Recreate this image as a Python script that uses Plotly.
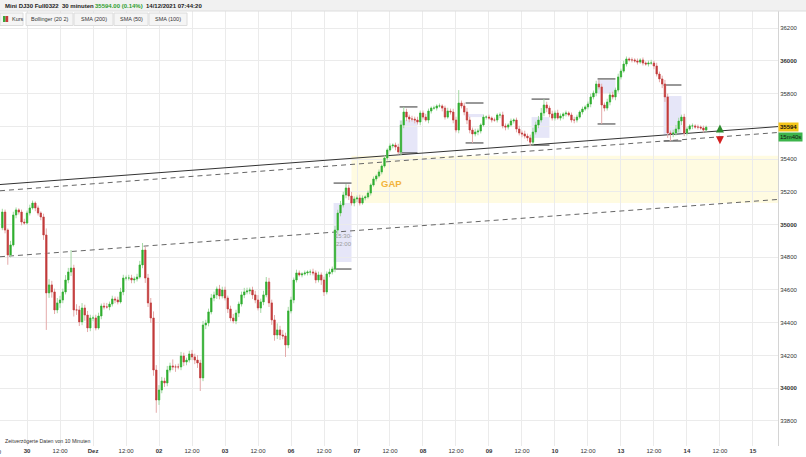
import plotly.graph_objects as go

# ---------------- data (hourly candles) ----------------
first_open = 34980
start_day = -0.375          # 29 Nov 15:00 in trading-day units (0 = 30 Nov 00:00)
bar_days = 1 / 24

closes_29 = [35076, 34966, 34814, 34875, 35058, 35089, 35076, 35015, 35009]
closes_30 = [35070, 35101, 35131, 35101, 35070, 35046, 34936, 34582, 34631, 34588, 34478, 34521,
             34539, 34588, 34661, 34710, 34734, 34478, 34478, 34405, 34490, 34447, 34368, 34429]
closes_01 = [34429, 34368, 34441, 34502, 34496, 34496, 34514, 34545, 34539, 34527, 34588, 34673,
             34673, 34673, 34661, 34667, 34679, 34753, 34844, 34673, 34521, 34429, 34111, 33928]
closes_02 = [33989, 34044, 34032, 34111, 34136, 34130, 34130, 34130, 34197, 34160, 34172, 34209,
             34191, 34172, 34154, 34063, 34386, 34398, 34466, 34551, 34570, 34606, 34563, 34600]
closes_03 = [34551, 34484, 34429, 34411, 34459, 34514, 34570, 34588, 34594, 34600, 34570, 34539,
             34490, 34527, 34570, 34649, 34521, 34417, 34325, 34356, 34325, 34319, 34264, 34472]
closes_06 = [34539, 34661, 34704, 34692, 34698, 34704, 34710, 34710, 34704, 34661, 34692, 34661,
             34588, 34698, 34710, 34728, 34966, 35070, 35119, 35180, 35223, 35174, 35131, 35156]
closes_07 = [35162, 35131, 35162, 35168, 35192, 35241, 35278, 35296, 35321, 35357, 35406, 35455,
             35480, 35485, 35473, 35443, 35608, 35687, 35656, 35644, 35644, 35638, 35626, 35681]
closes_08 = [35656, 35638, 35693, 35711, 35711, 35724, 35724, 35711, 35656, 35693, 35687, 35638,
             35577, 35742, 35724, 35687, 35638, 35577, 35553, 35565, 35571, 35608, 35656, 35656]
closes_09 = [35650, 35638, 35638, 35669, 35669, 35602, 35595, 35608, 35632, 35638, 35583, 35559,
             35553, 35540, 35529, 35503, 35565, 35608, 35638, 35681, 35730, 35711, 35675, 35650]
closes_10 = [35681, 35650, 35663, 35675, 35681, 35669, 35638, 35638, 35656, 35687, 35705, 35718,
             35736, 35779, 35803, 35858, 35840, 35730, 35711, 35748, 35791, 35779, 35821, 35901]
closes_13 = [35937, 35980, 36011, 36005, 36005, 35999, 35992, 36005, 35986, 35980, 35986, 35986,
             35968, 35919, 35889, 35858, 35779, 35559, 35553, 35559, 35583, 35632, 35656, 35559]
closes_14 = [35583, 35602, 35602, 35595, 35595, 35589, 35577, 35594]

upper_wick = (
    [20, 15, 10, 25, 20, 15, 10, 15, 20] +
    [15, 20, 15, 10, 15, 10, 20, 40, 35, 25, 20, 30, 25, 20, 30, 25, 110, 20, 35, 25, 30, 20, 25, 20] +
    [15, 20, 20, 15, 20, 25, 15, 20, 15, 20, 25, 20, 15, 20, 20, 15, 20, 25, 43, 20, 25, 30, 40, 30] +
    [30, 25, 20, 25, 20, 40, 15, 20, 25, 20, 15, 20, 25, 20, 30, 20, 25, 20, 20, 25, 20, 15, 25, 20] +
    [20, 15, 20, 25, 20, 15, 20, 25, 20, 15, 20, 25, 30, 20, 25, 30, 25, 20, 30, 40, 25, 30, 20, 25] +
    [20, 15, 20, 15, 10, 15, 10, 15, 20, 15, 20, 15, 20, 15, 20, 15, 25, 20, 25, 20, 24, 20, 25, 15] +
    [15, 20, 15, 10, 15, 10, 15, 10, 15, 10, 15, 10, 15, 10, 15, 20, 25, 31, 20, 15, 20, 15, 20, 15] +
    [15, 20, 15, 10, 15, 10, 15, 10, 15, 20, 15, 20, 20, 79, 15, 20, 25, 20, 15, 20, 15, 10, 15, 10] +
    [15, 10, 15, 10, 15, 20, 15, 10, 15, 10, 15, 20, 15, 20, 15, 20, 25, 20, 25, 30, 36, 20, 15, 20] +
    [15, 20, 15, 10, 15, 10, 15, 20, 15, 10, 15, 10, 15, 20, 15, 20, 25, 20, 15, 20, 15, 20, 15, 20] +
    [15, 20, 15, 10, 15, 10, 15, 10, 15, 10, 15, 20, 15, 20, 15, 20, 25, 20, 15, 20, 25, 20, 15, 20] +
    [15, 10, 15, 10, 15, 10, 15, 10]
)
lower_wick = (
    [15, 20, 60, 15, 10, 20, 15, 20, 10] +
    [10, 15, 10, 20, 15, 20, 30, 226, 30, 35, 25, 20, 30, 20, 15, 20, 25, 40, 30, 25, 20, 35, 25, 20] +
    [20, 15, 10, 20, 15, 10, 20, 15, 20, 15, 10, 20, 15, 15, 20, 20, 15, 10, 20, 30, 25, 30, 35, 78] +
    [30, 20, 25, 20, 15, 20, 30, 15, 20, 25, 20, 15, 20, 25, 30, 80, 20, 25, 20, 15, 20, 25, 20, 15] +
    [15, 25, 20, 15, 20, 25, 15, 20, 15, 20, 25, 20, 15, 30, 20, 15, 25, 30, 35, 25, 30, 20, 73, 20] +
    [15, 20, 15, 10, 15, 10, 15, 20, 15, 20, 15, 30, 25, 15, 20, 15, 20, 25, 20, 15, 20, 25, 15, 20] +
    [20, 15, 10, 15, 10, 15, 10, 15, 10, 15, 10, 15, 10, 15, 20, 15, 20, 20, 25, 20, 15, 20, 15, 20] +
    [15, 10, 20, 15, 10, 15, 10, 20, 15, 10, 15, 20, 15, 20, 15, 20, 25, 20, 55, 15, 20, 15, 10, 15] +
    [10, 15, 10, 15, 20, 15, 20, 15, 10, 15, 20, 15, 20, 15, 20, 25, 20, 15, 20, 15, 20, 25, 20, 15] +
    [15, 10, 15, 20, 15, 10, 15, 20, 15, 10, 15, 10, 15, 20, 15, 20, 15, 116, 20, 15, 20, 15, 20, 15] +
    [15, 10, 15, 10, 15, 10, 15, 10, 15, 10, 15, 10, 20, 15, 20, 25, 30, 30, 43, 20, 15, 20, 25, 20] +
    [15, 10, 20, 10, 15, 10, 15, 10]
)

# x-axis ticks (trading-day units)
x_tick_vals = [0, 0.5, 1, 1.5, 2, 2.5, 3, 3.5, 4, 4.5, 5, 5.5, 6, 6.5, 7, 7.5, 8, 8.5, 9, 9.5, 10, 10.5, 11]
x_tick_text = ["<b>30</b>", "12:00", "<b>Dez</b>", "12:00", "<b>02</b>", "12:00", "<b>03</b>", "12:00",
               "<b>06</b>", "12:00", "<b>07</b>", "12:00", "<b>08</b>", "12:00", "<b>09</b>", "12:00",
               "<b>10</b>", "12:00", "<b>13</b>", "12:00", "<b>14</b>", "12:00", "<b>15</b>"]
y_tick_vals = [33800, 34000, 34200, 34400, 34600, 34800, 35000, 35200, 35400, 35600, 35800, 36000, 36200]
y_tick_text = ["33800", "<b>34000</b>", "34200", "34400", "34600", "34800", "<b>35000</b>",
               "35200", "35400", "35600", "35800", "<b>36000</b>", "36200"]

# US session boxes (15:30-22:00): day index, session open/close band and high/low marks
session_days = [4, 5, 6, 7, 8, 9]
session_top = [35131, 35638, 35675, 35656, 35882, 35785]
session_bottom = [34771, 35437, 35656, 35529, 35803, 35547]
session_high = [35253, 35718, 35742, 35766, 35889, 35852]
session_low = [34728, 35437, 35498, 35485, 35614, 35510]

# trend lines: (x0, y0, x1, y1, dash)
trend_lines = [
    (-0.41, 35244, 11.38, 35598, "solid"),
    (-0.41, 35206, 11.38, 35562, "dash"),
    (-0.41, 34803, 11.38, 35153, "dash"),
]
gap_low, gap_high, gap_start = 35131, 35420, 4.917

last_price = 35594
# -------------------------------------------------------------------------------

closes = (closes_29 + closes_30 + closes_01 + closes_02 + closes_03 + closes_06 +
          closes_07 + closes_08 + closes_09 + closes_10 + closes_13 + closes_14)
x = [start_day + i * bar_days for i in range(len(closes))]
opens = [first_open] + closes[:-1]
highs = [max(o, c) + w for o, c, w in zip(opens, closes, upper_wick)]
lows = [min(o, c) - w for o, c, w in zip(opens, closes, lower_wick)]
body_hi = [max(o, c) for o, c in zip(opens, closes)]
body_lo = [min(o, c) for o, c in zip(opens, closes)]

FONT = "Liberation Sans, Arial, sans-serif"
GREEN, RED = "#2fae2f", "#c23b3b"

fig = go.Figure()
fig.add_trace(go.Candlestick(
    x=x, open=opens, high=highs, low=lows, close=closes,
    increasing=dict(line=dict(color="#a3d8a3", width=1), fillcolor="#a3d8a3"),
    decreasing=dict(line=dict(color="#e4aaaa", width=1), fillcolor="#e4aaaa"),
    hoverinfo="skip", showlegend=False))
fig.add_trace(go.Candlestick(
    x=x, open=opens, high=body_hi, low=body_lo, close=closes,
    increasing=dict(line=dict(color=GREEN, width=0.5), fillcolor=GREEN),
    decreasing=dict(line=dict(color=RED, width=0.5), fillcolor=RED),
    hoverinfo="skip", showlegend=False))

# arrows
fig.add_trace(go.Scatter(x=[10.5], y=[35610], mode="markers",
                         marker=dict(symbol="arrow-up", size=8, color="#2e8b2e", line=dict(width=0)),
                         hoverinfo="skip", showlegend=False))
fig.add_trace(go.Scatter(x=[10.5], y=[35490], mode="markers",
                         marker=dict(symbol="arrow-down", size=8, color="#d42020", line=dict(width=0)),
                         hoverinfo="skip", showlegend=False))

shapes = []
# gap zone
shapes.append(dict(type="rect", xref="x", yref="y", x0=gap_start, x1=11.38, y0=gap_low, y1=gap_high,
                   fillcolor="#fffbe1", line=dict(width=0), layer="below"))
# sessions
for d, top, bot, hi, lo in zip(session_days, session_top, session_bottom, session_high, session_low):
    s0, s1 = d + 15.5 / 24, d + 22 / 24
    shapes.append(dict(type="rect", xref="x", yref="y", x0=s0, x1=s1, y0=bot, y1=top,
                       fillcolor="#e6e6f8", line=dict(width=0), layer="below"))
    for yv in (hi, lo):
        shapes.append(dict(type="line", xref="x", yref="y", x0=s0, x1=s1, y0=yv, y1=yv,
                           line=dict(color="#333333", width=1), layer="between"))
# trend lines
for x0, y0, x1, y1, dash in trend_lines:
    shapes.append(dict(type="line", xref="x", yref="y", x0=x0, y0=y0, x1=x1, y1=y1,
                       line=dict(color="#333333" if dash == "solid" else "#666666", width=1,
                                 dash="solid" if dash == "solid" else "5px,4px"),
                       layer="between"))

# header (pixel -> paper helpers)
PW, PT, PB = 778.0, 11.0, 446.0


def px(v):
    return v / PW


def py(v):
    return (PB - v) / (PB - PT)


shapes.append(dict(type="rect", xref="paper", yref="paper", x0=0, x1=px(806), y0=py(11), y1=py(0),
                   fillcolor="#f1f1f1", line=dict(width=0), layer="above"))
shapes.append(dict(type="line", xref="paper", yref="paper", x0=0, x1=px(806), y0=py(11), y1=py(11),
                   line=dict(color="#dddddd", width=1), layer="above"))
buttons = [(0, 23, "Kurs"), (26, 73, "Bollinger (20 2)"), (74, 113, "SMA (200)"),
           (114, 148, "SMA (50)"), (149, 187, "SMA (100)")]
for b0, b1, _ in buttons:
    shapes.append(dict(type="rect", xref="paper", yref="paper", x0=px(b0), x1=px(b1), y0=py(25.5), y1=py(13),
                       fillcolor="#f5f5f5", line=dict(color="#dcdcdc", width=1), layer="above"))
shapes.append(dict(type="rect", xref="paper", yref="paper", x0=px(3), x1=px(5.6), y0=py(22), y1=py(16),
                   fillcolor="#3aa83a", line=dict(width=0), layer="above"))
shapes.append(dict(type="rect", xref="paper", yref="paper", x0=px(5.6), x1=px(8.2), y0=py(22), y1=py(16),
                   fillcolor="#c83a3a", line=dict(width=0), layer="above"))

ann = []


def txt(xp, yp, text, size=6, color="#222222", anchor="left"):
    ann.append(dict(xref="paper", yref="paper", x=px(xp), y=py(yp), text=text, showarrow=False,
                    xanchor=anchor, yanchor="middle", font=dict(family=FONT, size=size, color=color)))


txt(3, 6, "<b>Mini DJ30 Full0322</b>")
txt(60, 6, "<b>30 minuten</b>")
txt(93, 6, "<b>35594.00 (0.14%)</b>", color="#2e9e2e")
txt(144, 6, "<b>14/12/2021 07:44:20</b>")
txt(10, 19.5, "Kurs", size=5.5, color="#333333")
for (b0, b1, label) in buttons[1:]:
    txt((b0 + b1) / 2, 19.5, label, size=5.5, color="#333333", anchor="center")
txt(3, 441, "Zeitverzögerte Daten von 10 Minuten", size=5.2, color="#333333")
txt(-6, 452, "12:00", size=6, color="#333333", anchor="center")

# chart annotations
ann.append(dict(xref="x", yref="y", x=5.53, y=35253, text="<b>GAP</b>", showarrow=False,
                font=dict(family=FONT, size=9.5, color="#f3b43c")))
ann.append(dict(xref="x", yref="y", x=4.79, y=34905, text="15:30-<br>22:00", showarrow=False,
                font=dict(family=FONT, size=6, color="#9a9a9a")))
ann.append(dict(xref="paper", yref="y", x=1.0, y=last_price, text="<b>35594</b>", showarrow=False,
                xanchor="left", yanchor="middle", bgcolor="#f5c51a", borderpad=1,
                font=dict(family=FONT, size=6, color="#111111")))
ann.append(dict(xref="paper", yref="y", x=1.0, y=last_price - 58, text="15m40s", showarrow=False,
                xanchor="left", yanchor="middle", bgcolor="#3cb44b", borderpad=1,
                font=dict(family=FONT, size=6, color="#111111")))

fig.update_layout(
    width=806, height=457,
    margin=dict(l=0, r=28, t=11, b=11, autoexpand=False),
    template="none",
    paper_bgcolor="white", plot_bgcolor="white",
    showlegend=False,
    shapes=shapes, annotations=ann,
    font=dict(family=FONT, size=6, color="#333333"),
    xaxis=dict(range=[-0.41, 11.38], tickmode="array", tickvals=x_tick_vals, ticktext=x_tick_text,
               showgrid=True, gridcolor="#ebebeb", gridwidth=1, zeroline=False, showline=False,
               ticks="", tickfont=dict(family=FONT, size=6, color="#333333"),
               rangeslider=dict(visible=False), automargin=False, fixedrange=True),
    yaxis=dict(range=[33647, 36304], side="right", tickmode="array", tickvals=y_tick_vals,
               ticktext=y_tick_text, showgrid=True, gridcolor="#ebebeb", gridwidth=1, zeroline=False,
               showline=True, linecolor="#d4d4d4", linewidth=1, ticks="",
               tickfont=dict(family=FONT, size=6, color="#333333"), automargin=False, fixedrange=True),
)

fig.write_html("out.html", config={"displayModeBar": False},
               post_script="document.body.style.margin='0';document.body.style.overflow='hidden';")
